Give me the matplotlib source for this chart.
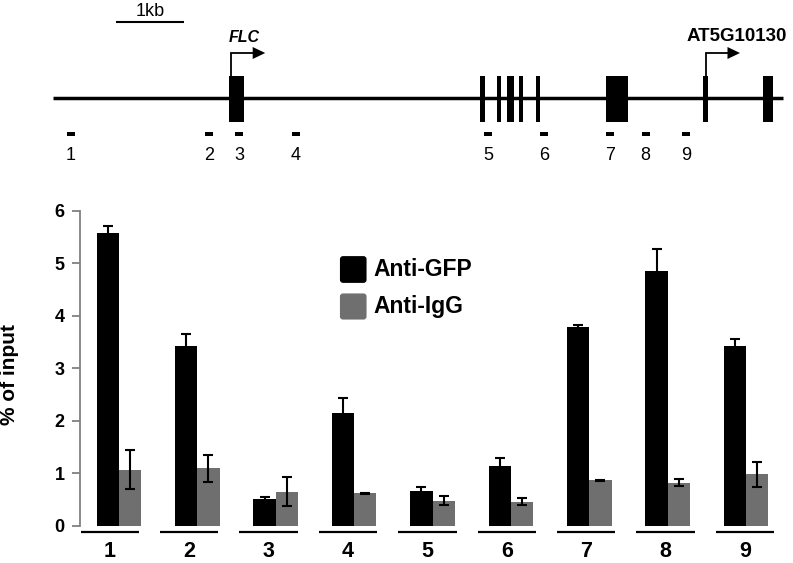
import matplotlib
matplotlib.use("Agg")
import matplotlib.pyplot as plt
from matplotlib.patches import Rectangle, FancyBboxPatch
import numpy as np

plt.rcParams['font.family'] = ['Liberation Sans', 'DejaVu Sans']

# ---------------- data ----------------
regions = ['1', '2', '3', '4', '5', '6', '7', '8', '9']
gfp = [5.57, 3.42, 0.51, 2.15, 0.67, 1.14, 3.78, 4.86, 3.42]
gfp_err = [0.14, 0.23, 0.04, 0.28, 0.06, 0.15, 0.05, 0.41, 0.13]
igg = [1.07, 1.09, 0.65, 0.62, 0.48, 0.46, 0.865, 0.82, 0.98]
igg_err = [0.38, 0.26, 0.27, 0.01, 0.08, 0.06, 0.01, 0.07, 0.24]
series_names = ['Anti-GFP', 'Anti-IgG']
yticks = [0, 1, 2, 3, 4, 5, 6]

# gene diagram (diagram units, ~68 units per kb)
line_span = (53, 783)
exons = [(229.3, 244.0), (480.0, 485.0), (496.7, 501.0), (506.7, 514.3),
         (519.3, 522.7), (536.0, 540.0), (605.7, 628.3), (703.3, 708.3),
         (762.7, 773.3)]
probes = [70.7, 209.0, 239.3, 296.0, 488.3, 544.0, 610.0, 645.7, 686.0]
scale_bar = (116, 184)
tss = [(230.7, 'FLC'), (705.5, 'AT5G10130')]

BLACK = '#000000'
GREY = '#6f6f6f'

W, H = 793, 563
fig = plt.figure(figsize=(W / 100, H / 100), dpi=100)

# ---------------- bar chart ----------------
ax = fig.add_axes([80 / W, (H - 525.7) / H, 710 / W, (525.7 - 210.7) / H])
x = np.arange(len(regions))
bw = 0.284
ax.bar(x - bw / 2, gfp, bw, color=BLACK, zorder=2)
ax.bar(x + bw / 2, igg, bw, color=GREY, zorder=2)
ek = dict(fmt='none', ecolor='black', elinewidth=1.5, capsize=3.8, capthick=1.5, zorder=3)
ax.errorbar(x - bw / 2, gfp, yerr=gfp_err, **ek)
ax.errorbar(x + bw / 2, igg, yerr=igg_err, **ek)

ax.set_xlim(-0.497, 8.56)
ax.set_ylim(0, 6)
ax.set_yticks(yticks)
ax.set_yticklabels([str(t) for t in yticks], fontsize=13, fontweight='bold')
ax.tick_params(axis='y', length=6, width=1.3, color='#808080', pad=5)
ax.set_xticks([])
for s in ['top', 'right', 'bottom']:
    ax.spines[s].set_visible(False)
ax.spines['left'].set_color('#808080')
ax.spines['left'].set_linewidth(1.3)
ax.set_ylabel('% of input', fontsize=15, fontweight='bold')
ax.yaxis.set_label_coords(-0.086, 0.48)

# category underlines and labels
for i, lab in enumerate(regions):
    c = -0.116 + 1.0128 * i
    ax.plot([c - 0.372, c + 0.372], [-0.126, -0.126], color='black', lw=1.6,
            clip_on=False, solid_capstyle='butt')
    ax.text(c, -0.50, lab, ha='center', va='center', fontsize=15.5,
            fontweight='bold', clip_on=False)

# ---------------- overlay (diagram + legend) ----------------
ov = fig.add_axes([0, 0, 1, 1], zorder=5)
ov.set_xlim(0, W)
ov.set_ylim(H, 0)
ov.axis('off')
ov.patch.set_alpha(0)

# legend
leg_y = [(255.7, 283.3), (293.0, 320.0)]
for (y0, y1), col, name in zip(leg_y, [BLACK, GREY], series_names):
    ov.add_patch(FancyBboxPatch((340.5, y0 + 1), 25.5, y1 - y0 - 2,
                                boxstyle='round,pad=0,rounding_size=2.5',
                                fc=col, ec=col, lw=0.8))
    ov.text(373, (y0 + y1) / 2 + 0.5, name, ha='left', va='center',
            fontsize=16.5, fontweight='bold')

# scale bar
ov.plot(scale_bar, [22, 22], color='black', lw=1.5, solid_capstyle='butt')
ov.text(sum(scale_bar) / 2, 11, '1kb', ha='center', va='center', fontsize=13,
        family=['Liberation Sans Narrow', 'Liberation Sans'])

# main line
ov.plot(line_span, [98.3, 98.3], color='black', lw=2.5, solid_capstyle='butt')
for a, b in exons:
    ov.add_patch(Rectangle((a, 76), b - a, 45.7, fc='black', ec='none'))

# probes
for i, p in enumerate(probes):
    ov.add_patch(Rectangle((p - 4, 132.3), 8, 3.6, fc='black', ec='none'))
    ov.text(p, 155.5, regions[i], ha='center', va='center', fontsize=13)

# TSS arrows
for xs, name in tss:
    ov.plot([xs, xs, xs + 22.5], [76, 53, 53], color='black', lw=1.3,
            solid_capstyle='butt', solid_joinstyle='miter')
    ov.fill([xs + 22, xs + 34.5, xs + 22], [47, 53, 59], color='black', lw=0)
    if name == 'FLC':
        ov.text(xs + 13.5, 38, name, ha='center', va='center', fontsize=11.5,
                fontweight='bold', fontstyle='italic')
    else:
        ov.text(xs + 31.5, 36.7, name, ha='center', va='center', fontsize=13.5,
                fontweight='bold')

fig.savefig('out.png', dpi=100, facecolor='white')
